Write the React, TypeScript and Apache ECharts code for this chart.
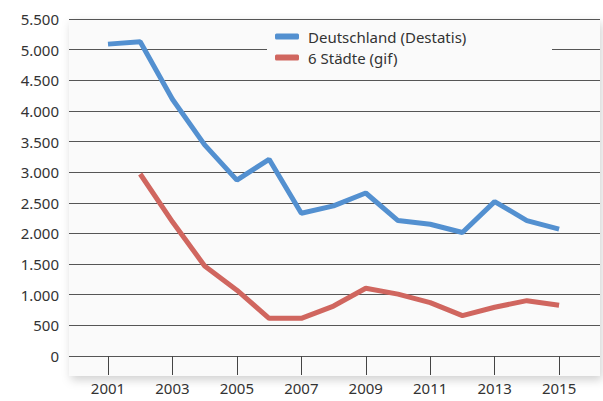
import React, { useEffect, useRef } from "react";
import * as echarts from "echarts";

const years = [2001, 2002, 2003, 2004, 2005, 2006, 2007, 2008, 2009, 2010, 2011, 2012, 2013, 2014, 2015];
const deutschland = [5090, 5130, 4190, 3445, 2870, 3210, 2330, 2450, 2660, 2210, 2150, 2015, 2520, 2210, 2070];
const staedte = [null, 2970, 2190, 1470, 1075, 615, 615, 815, 1105, 1010, 870, 658, 795, 903, 827];
const xTickYears = [2001, 2003, 2005, 2007, 2009, 2011, 2013, 2015];
const seriesNames = ["Deutschland (Destatis)", "6 Städte (gif)"];

const FONT = "'Noto Sans', 'Open Sans', sans-serif";

export default function App() {
  const ref = useRef<HTMLDivElement>(null);
  useEffect(() => {
    if (!ref.current) return;
    const chart = echarts.init(ref.current, undefined, { renderer: "svg" });
    chart.setOption({
      animation: false,
      backgroundColor: "#ffffff",
      textStyle: { fontFamily: FONT },
      grid: { left: 69, right: 3, top: 19, bottom: 45 },
      graphic: [
        {
          type: "rect",
          z: -10,
          shape: { x: 69, y: 19, width: 531, height: 357 },
          style: { fill: "#fafafa", shadowBlur: 10, shadowOffsetY: 4, shadowOffsetX: 2, shadowColor: "rgba(0,0,0,0.18)" },
        },
        {
          type: "rect",
          z: 1,
          shape: { x: 267, y: 28, width: 285, height: 52 },
          style: { fill: "#fafafa" },
        },
      ],
      legend: {
        orient: "vertical",
        left: 275,
        top: 29,
        itemWidth: 24,
        itemHeight: 6,
        itemGap: 6,
        icon: "roundRect",
        padding: 0,
        textStyle: { fontSize: 15, color: "#333", fontFamily: FONT, padding: [0, 0, 0, 4] },
        data: seriesNames,
      },
      xAxis: {
        type: "value",
        min: 1999.79,
        max: 2016.27,
        axisLine: { show: false },
        splitLine: { show: false },
        axisTick: { show: true, length: 19, lineStyle: { color: "#444" }, customValues: xTickYears },
        axisLabel: {
          customValues: xTickYears,
          margin: 24,
          fontSize: 15,
          color: "#333",
          fontFamily: FONT,
          formatter: (v: number) => String(Math.round(v)),
        },
      },
      yAxis: {
        type: "value",
        min: 0,
        max: 5500,
        interval: 500,
        axisLine: { show: false },
        axisTick: { show: false },
        splitLine: { lineStyle: { color: "#555", width: 1 } },
        axisLabel: {
          margin: 10,
          fontSize: 15,
          color: "#333",
          fontFamily: FONT,
          formatter: (v: number) => v.toString().replace(/\B(?=(\d{3})+(?!\d))/g, "."),
        },
      },
      series: [
        {
          name: seriesNames[0],
          type: "line",
          data: years.map((y, i) => [y, deutschland[i]]),
          showSymbol: false,
          lineStyle: { width: 5, color: "#5390d0" },
          itemStyle: { color: "#5390d0" },
          z: 5,
        },
        {
          name: seriesNames[1],
          type: "line",
          data: years.map((y, i) => [y, staedte[i]]),
          showSymbol: false,
          connectNulls: false,
          lineStyle: { width: 5, color: "#d0665f" },
          itemStyle: { color: "#d0665f" },
          z: 5,
        },
      ],
    });
    return () => chart.dispose();
  }, []);
  return <div ref={ref} style={{ width: 603, height: 401, position: "absolute", left: 0, top: 0 }} />;
}
